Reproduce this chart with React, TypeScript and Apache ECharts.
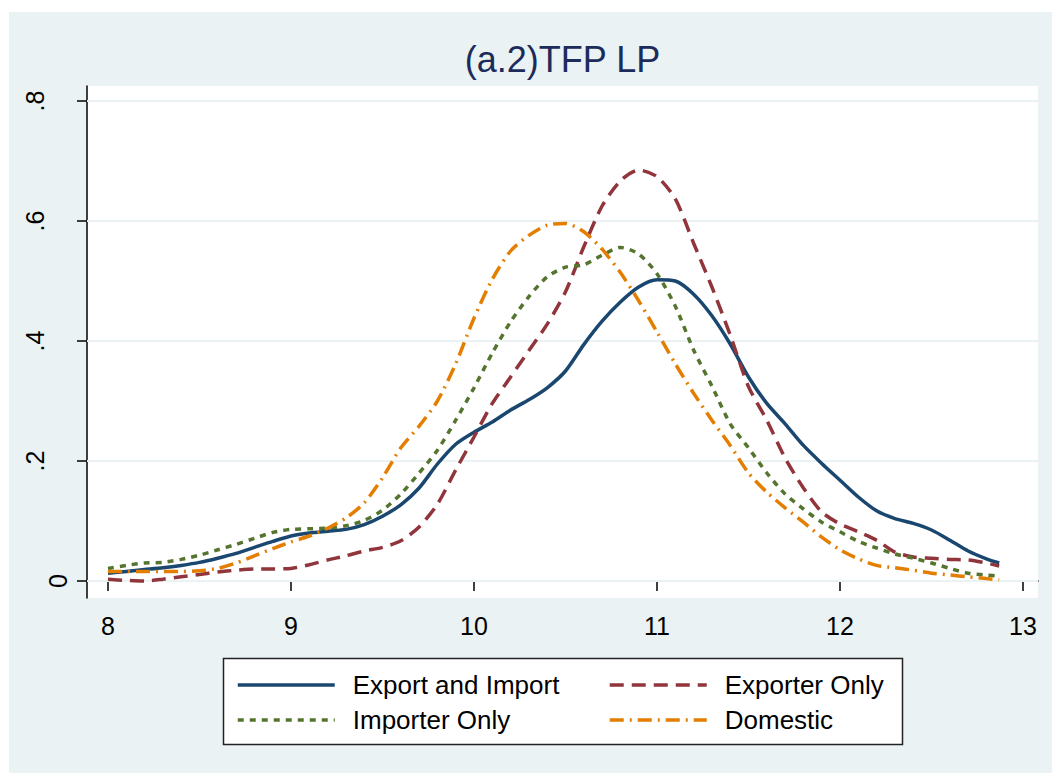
import React, { useEffect, useRef } from "react";
import * as echarts from "echarts";

// Log TFP grid (x) and kernel density estimates for each firm group
const xs = [
  8.0, 8.1, 8.2, 8.3, 8.4, 8.5, 8.6, 8.7, 8.8, 8.9,
  9.0, 9.1, 9.2, 9.3, 9.4, 9.5, 9.6, 9.7, 9.8, 9.9,
  10.0, 10.1, 10.2, 10.3, 10.4, 10.5, 10.6, 10.7, 10.8, 10.9,
  11.0, 11.1, 11.2, 11.3, 11.4, 11.5, 11.6, 11.7, 11.8, 11.9,
  12.0, 12.1, 12.2, 12.3, 12.4, 12.5, 12.6, 12.7, 12.8, 12.87,
];

const exportAndImport = [
  0.013, 0.016, 0.019, 0.022, 0.026, 0.031, 0.038, 0.046, 0.056, 0.066,
  0.075, 0.080, 0.083, 0.086, 0.094, 0.108, 0.127, 0.155, 0.195, 0.228,
  0.248, 0.265, 0.285, 0.302, 0.322, 0.350, 0.394, 0.433, 0.465, 0.490,
  0.502, 0.500, 0.478, 0.442, 0.395, 0.340, 0.296, 0.262, 0.226, 0.196,
  0.168, 0.140, 0.117, 0.104, 0.096, 0.085, 0.068, 0.050, 0.037, 0.030,
];

const exporterOnly = [
  0.003, 0.001, 0.000, 0.003, 0.007, 0.011, 0.015, 0.018, 0.020, 0.020,
  0.021, 0.027, 0.035, 0.042, 0.050, 0.056, 0.067, 0.090, 0.128, 0.185,
  0.240, 0.296, 0.340, 0.384, 0.428, 0.482, 0.557, 0.625, 0.667, 0.685,
  0.674, 0.637, 0.563, 0.490, 0.410, 0.324, 0.268, 0.205, 0.155, 0.115,
  0.095, 0.082, 0.068, 0.048, 0.040, 0.038, 0.036, 0.035, 0.030, 0.025,
];

const importerOnly = [
  0.021, 0.026, 0.030, 0.031, 0.036, 0.043, 0.052, 0.061, 0.071, 0.081,
  0.086, 0.087, 0.088, 0.092, 0.101, 0.118, 0.145, 0.180, 0.218, 0.268,
  0.322, 0.380, 0.432, 0.474, 0.507, 0.523, 0.527, 0.543, 0.556, 0.545,
  0.512, 0.458, 0.385, 0.325, 0.262, 0.222, 0.180, 0.145, 0.120, 0.098,
  0.082, 0.066, 0.055, 0.045, 0.038, 0.030, 0.021, 0.013, 0.010, 0.008,
];

const domestic = [
  0.016, 0.016, 0.016, 0.016, 0.016, 0.017, 0.021, 0.030, 0.042, 0.054,
  0.065, 0.075, 0.088, 0.105, 0.130, 0.172, 0.222, 0.258, 0.300, 0.362,
  0.438, 0.503, 0.550, 0.576, 0.593, 0.596, 0.582, 0.553, 0.514, 0.467,
  0.415, 0.362, 0.313, 0.268, 0.226, 0.180, 0.148, 0.122, 0.098, 0.073,
  0.052, 0.037, 0.026, 0.022, 0.018, 0.013, 0.010, 0.007, 0.004, 0.002,
];

const xTicks = [8, 9, 10, 11, 12, 13];
const yTicks = [0, 0.2, 0.4, 0.6, 0.8];

const seriesNames = ["Export and Import", "Exporter Only", "Importer Only", "Domestic"];

const BG = "#eaf2f3";
const FONT = "'Liberation Sans', Arial, sans-serif";
const LINE_W = 3.5;

const zip = (ys: number[]) => xs.map((x, i) => [x, ys[i]]);

const fmtY = (v: number) => (v === 0 ? "0" : String(Number(v.toFixed(1))).replace(/^0/, ""));

export default function App() {
  const ref = useRef<HTMLDivElement>(null);

  useEffect(() => {
    if (!ref.current) return;
    const chart = echarts.init(ref.current, null, { renderer: "svg" });

    const xMin = 8 - 21 / 183;
    const xMax = 8 + 930 / 183;
    const yMin = -17 / 600;
    const yMax = 495 / 600;

    const lineSeries = (name: string, ys: number[], color: string, type: any) => ({
      name,
      type: "line",
      data: zip(ys),
      showSymbol: false,
      symbol: "none",
      smooth: 0.25,
      z: 3,
      lineStyle: { color, width: LINE_W, type, cap: "butt" },
      itemStyle: { color },
    });

    const legendBase = {
      orient: "vertical",
      top: 672,
      padding: 0,
      itemWidth: 97,
      itemHeight: 26,
      itemGap: 9,
      itemStyle: { opacity: 0 },
      lineStyle: { width: LINE_W },
      textStyle: { fontFamily: FONT, fontSize: 26, color: "#000", padding: [0, 0, 0, 13] },
    };

    chart.setOption({
      animation: false,
      backgroundColor: BG,
      textStyle: { fontFamily: FONT },
      title: {
        text: "(a.2)TFP LP",
        left: 562.5,
        textAlign: "center",
        top: 41,
        padding: 0,
        textStyle: { fontFamily: FONT, fontSize: 36, fontWeight: "normal", color: "#1c2b5a" },
      },
      grid: {
        left: 87,
        top: 86,
        width: 951,
        height: 512,
        show: true,
        backgroundColor: "#ffffff",
        borderWidth: 0,
      },
      legend: [
        { ...legendBase, data: ["Export and Import", "Importer Only"], left: 236 },
        { ...legendBase, data: ["Exporter Only", "Domestic"], left: 608 },
      ],
      graphic: [
        // page strips outside the graph region
        { type: "rect", shape: { x: 0, y: 0, width: 1052, height: 12 }, style: { fill: "#fff" }, z: 100 },
        { type: "rect", shape: { x: 0, y: 0, width: 9, height: 773 }, style: { fill: "#fff" }, z: 100 },
        // legend frame
        {
          type: "rect",
          shape: { x: 223.5, y: 658.5, width: 679, height: 86 },
          style: { fill: "#fff", stroke: "#222", lineWidth: 1.5 },
          z: 1,
        },
      ],
      xAxis: {
        type: "value",
        min: xMin,
        max: xMax,
        axisLine: { show: true, lineStyle: { color: "#000", width: 1.5 } },
        axisTick: { show: true, customValues: xTicks, length: 10, lineStyle: { color: "#000", width: 1.5 } },
        axisLabel: {
          customValues: xTicks,
          margin: 15,
          fontFamily: FONT,
          fontSize: 25,
          color: "#000",
          formatter: (v: number) => String(Math.round(v)),
        },
        splitLine: { show: false },
      },
      yAxis: [
        {
          type: "value",
          min: yMin,
          max: yMax,
          axisLine: { show: true, lineStyle: { color: "#000", width: 1.5 } },
          axisTick: { show: true, customValues: yTicks, length: 10, lineStyle: { color: "#000", width: 1.5 } },
          axisLabel: {
            customValues: yTicks.filter((v) => v !== 0),
            rotate: 90,
            margin: 40,
            fontFamily: FONT,
            fontSize: 25,
            color: "#000",
            formatter: fmtY,
          },
          splitLine: { show: false },
        },
        {
          type: "value",
          min: yMin,
          max: yMax,
          position: "left",
          axisLine: { show: false },
          axisTick: { show: false },
          axisLabel: {
            customValues: yTicks.filter((v) => v === 0),
            rotate: 90,
            margin: 17,
            fontFamily: FONT,
            fontSize: 25,
            color: "#000",
            formatter: fmtY,
          },
          splitLine: { show: false },
        },
      ],
      series: [
        {
          name: "gridlines",
          type: "line",
          data: [],
          z: 1,
          silent: true,
          markLine: {
            silent: true,
            z: 1,
            symbol: ["none", "none"],
            label: { show: false },
            lineStyle: { color: BG, width: 2, type: "solid" },
            data: yTicks.map((v) => ({ yAxis: v })),
          },
        },
        lineSeries(seriesNames[0], exportAndImport, "#1a476f", "solid"),
        lineSeries(seriesNames[1], exporterOnly, "#90353b", [14, 8]),
        lineSeries(seriesNames[2], importerOnly, "#55752f", [6, 6]),
        lineSeries(seriesNames[3], domestic, "#e37e00", [14, 6, 2, 6]),
      ],
    });

    return () => chart.dispose();
  }, []);

  return (
    <div
      ref={ref}
      style={{ position: "absolute", left: 0, top: 0, width: 1052, height: 773 }}
    />
  );
}
